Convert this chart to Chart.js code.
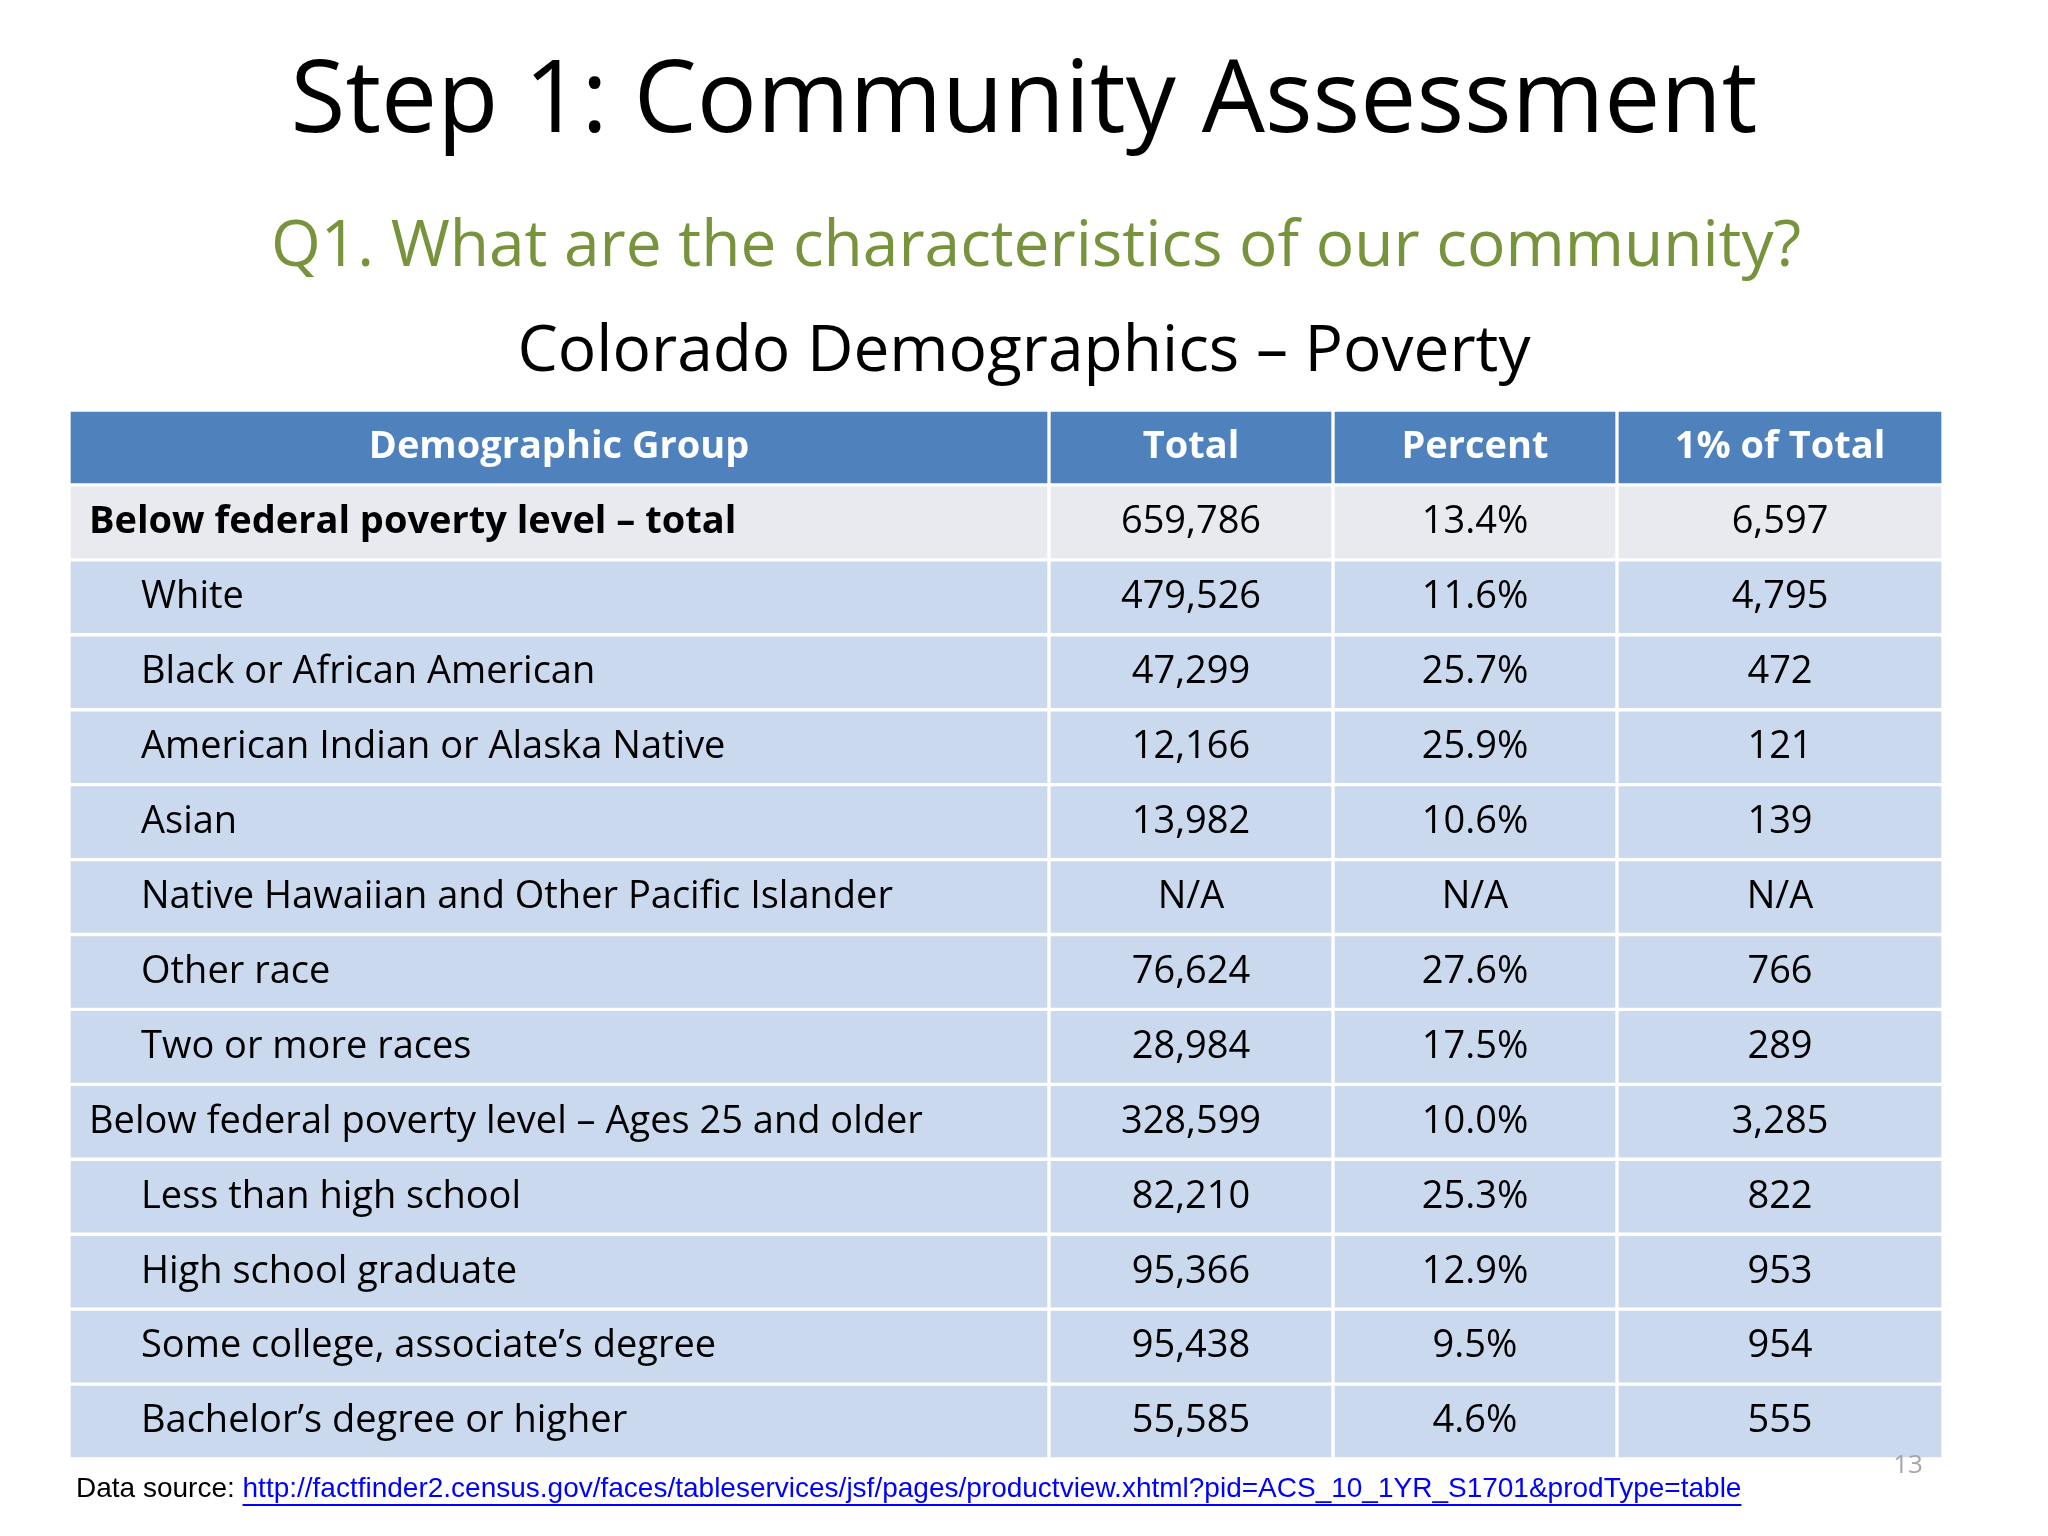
<!DOCTYPE html>
<html><head><meta charset="utf-8">
<script src="https://cdn.jsdelivr.net/npm/chart.js@4.4.0/dist/chart.umd.min.js"></script>
<style>html,body{margin:0;padding:0;background:#fff}#wrap{width:2048px;height:1536px}</style>
</head><body><div id="wrap"><canvas id="c"></canvas></div>
<script>
const headers = ["Demographic Group","Total","Percent","1% of Total"];
const groups = ["Below federal poverty level – total","White","Black or African American","American Indian or Alaska Native","Asian","Native Hawaiian and Other Pacific Islander","Other race","Two or more races","Below federal poverty level – Ages 25 and older","Less than high school","High school graduate","Some college, associate’s degree","Bachelor’s degree or higher"];
const indented = [false,true,true,true,true,true,true,true,false,true,true,true,true];
const totals = ["659,786","479,526","47,299","12,166","13,982","N/A","76,624","28,984","328,599","82,210","95,366","95,438","55,585"];
const percents = ["13.4%","11.6%","25.7%","25.9%","10.6%","N/A","27.6%","17.5%","10.0%","25.3%","12.9%","9.5%","4.6%"];
const onePct = ["6,597","4,795","472","121","139","N/A","766","289","3,285","822","953","954","555"];
const columnEdges = [0,980,1264,1548,1874];

const rows = ["header"].concat(groups.map((g,i)=>"r"+i));
const cellColor = (ri)=> ri===0 ? "#4F81BD" : (ri===1 ? "#E9EAF0" : "#CBD9EE");
const datasets = headers.map((h,ci)=>({
  label:h,
  data: rows.map(()=>[columnEdges[ci],columnEdges[ci+1]]),
  backgroundColor: rows.map((r,ri)=>cellColor(ri)),
  borderColor:"#fff", borderWidth:2, borderSkipped:false,
  grouped:false, barPercentage:1, categoryPercentage:1
}));

const textPlugin = {
  id:"txt",
  afterDatasetsDraw(chart){
    const ctx=chart.ctx, xs=chart.scales.x, ys=chart.scales.y;
    const F='"Open Sans","Noto Sans",sans-serif';
    ctx.save();
    ctx.textBaseline="middle";
    const cols=[groups,totals,percents,onePct];
    rows.forEach((r,ri)=>{
      const y=ys.getPixelForValue(ri);
      for(let ci=0;ci<4;ci++){
        let t, bold=false, color="#000";
        if(ri===0){t=headers[ci];bold=true;color="#fff";}
        else {t=cols[ci][ri-1]; bold=(ri===1&&ci===0);}
        ctx.font=(bold?"bold ":"")+"38px "+F;
        ctx.fillStyle=color;
        if(ci===0 && ri>0){
          ctx.textAlign="left";
          ctx.fillText(t, xs.getPixelForValue(0)+(indented[ri-1]?72:20), y);
        } else {
          ctx.textAlign="center";
          ctx.fillText(t,(xs.getPixelForValue(columnEdges[ci])+xs.getPixelForValue(columnEdges[ci+1]))/2,y);
        }
      }
    });
    // titles
    ctx.textAlign="center";
    ctx.fillStyle="#000"; ctx.font="100px "+F; ctx.fillText("Step 1: Community Assessment",1024,104);
    ctx.fillStyle="#77933C"; ctx.font="64px "+F; ctx.fillText("Q1. What are the characteristics of our community?",1036,248);
    ctx.fillStyle="#000"; ctx.font="64px "+F; ctx.fillText("Colorado Demographics – Poverty",1024,353);
    // page number
    ctx.fillStyle="#A6A6A6"; ctx.font="26px "+F; ctx.fillText("13",1908,1466);
    // footer
    ctx.textAlign="left";
    ctx.font='28px "Liberation Sans",Arial,sans-serif';
    ctx.fillStyle="#000"; const lab="Data source: "; ctx.fillText(lab,76,1489);
    const x0=76+ctx.measureText(lab).width;
    const url="http://factfinder2.census.gov/faces/tableservices/jsf/pages/productview.xhtml?pid=ACS_10_1YR_S1701&prodType=table";
    ctx.fillStyle="#0000FF"; ctx.fillText(url,x0,1489);
    ctx.fillRect(x0,1504,ctx.measureText(url).width,2);
    ctx.restore();
  }
};

new Chart(document.getElementById("c"),{
  type:"bar",
  data:{labels:rows,datasets},
  options:{
    indexAxis:"y", responsive:true, maintainAspectRatio:false, animation:false,
    layout:{padding:{left:69,right:105,top:410,bottom:77}},
    plugins:{legend:{display:false},tooltip:{enabled:false},title:{display:false}},
    scales:{
      x:{type:"linear",min:0,max:columnEdges[4],display:false},
      y:{type:"category",display:false,offset:true}
    }
  },
  plugins:[textPlugin]
});
</script></body></html>
